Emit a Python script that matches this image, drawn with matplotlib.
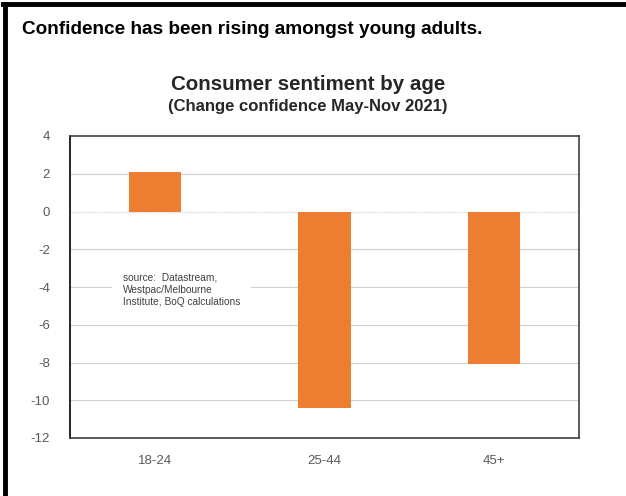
import matplotlib
matplotlib.use("Agg")
import matplotlib.pyplot as plt
from matplotlib.lines import Line2D

plt.rcParams['font.family'] = ['Liberation Sans', 'DejaVu Sans']

categories = ["18-24", "25-44", "45+"]
values = [2.1, -10.4, -8.1]
yticks = [4, 2, 0, -2, -4, -6, -8, -10, -12]

W, H = 626, 496
fig = plt.figure(figsize=(W/100, H/100), dpi=100)

ax = fig.add_axes([70/W, 1-438/H, (579-70)/W, (438-136)/H])
x = range(len(categories))
ax.bar(x, values, width=0.31, color="#ED7D31", zorder=3)
ax.set_xlim(-0.5, 2.5)
ax.set_ylim(-12, 4)
ax.set_yticks(yticks)
ax.set_yticklabels([str(t) for t in yticks])
ax.set_xticks(list(x))
ax.set_xticklabels(categories)
ax.tick_params(axis='both', length=0, colors="#595959", labelsize=9.5)
ax.tick_params(axis='y', pad=14.5)
ax.tick_params(axis='x', pad=12)
for t in yticks:
    if t in (4, -12):
        continue
    ax.axhline(t, color="#D0D0D0", lw=0.8, ls=(0, (1, 1)) if t == 0 else '-', zorder=1)
for s in ax.spines.values():
    s.set_color("#404040")
    s.set_linewidth(1.2)
ax.spines['left'].set_color("#000000")

ax.text(0.104, 0.49, "source:  Datastream,\nWestpac/Melbourne\nInstitute, BoQ calculations",
        transform=ax.transAxes, fontsize=7.3, color="#404040", va='center', ha='left',
        linespacing=1.3, zorder=4,
        bbox=dict(facecolor='white', edgecolor='none', pad=8))

fig.text(22/W, 1-29/H, "Confidence has been rising amongst young adults.",
         fontsize=13.7, fontweight='bold', color="#000000", va='center', ha='left')
fig.text(308/W, 1-85/H, "Consumer sentiment by age", fontsize=14.8, fontweight='bold',
         color="#262626", va='center', ha='center')
fig.text(308/W, 1-106/H, "(Change confidence May-Nov 2021)", fontsize=12, fontweight='bold',
         color="#262626", va='center', ha='center')

# outer border (left and top)
fig.add_artist(Line2D([5/W, 5/W], [0, 1-3.5/H], transform=fig.transFigure, color='black', lw=3.5))
fig.add_artist(Line2D([3/W, 1], [1-3.5/H, 1-3.5/H], transform=fig.transFigure, color='black', lw=3.5))

fig.savefig("out.png", dpi=100)
